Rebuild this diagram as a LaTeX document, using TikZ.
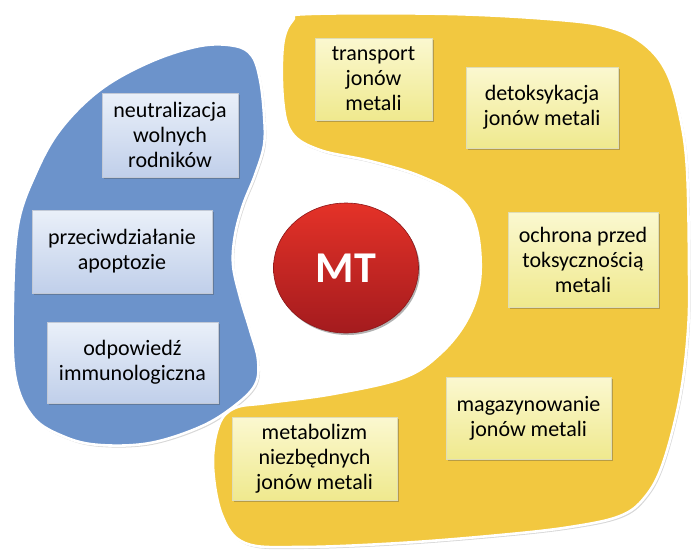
\documentclass[tikz,border=0pt]{standalone}
\usepackage{fontspec}
\setmainfont{Carlito}
\usetikzlibrary{shadows,shapes.geometric}
\definecolor{blobblue}{RGB}{108,147,203}
\definecolor{blobyellow}{RGB}{242,200,64}
\definecolor{bboxtop}{RGB}{234,240,249}
\definecolor{bboxbot}{RGB}{192,207,234}
\definecolor{yboxtop}{RGB}{251,248,208}
\definecolor{yboxbot}{RGB}{239,233,142}
\definecolor{mttop}{RGB}{228,50,40}
\definecolor{mtbot}{RGB}{164,27,30}
\tikzset{
  blob/.style={draw=white, line width=2.6pt, line join=round},
  blobshadow/.style={fill=black!45, opacity=0.35},
  infobox/.style={rectangle, inner sep=2pt, align=center,
    font=\fontsize{22}{25}\selectfont, text=black,
    drop shadow={shadow xshift=1.5pt, shadow yshift=-1.8pt, opacity=0.35, fill=black!70}},
  bluebox/.style={infobox, top color=bboxtop, bottom color=bboxbot, draw=bboxbot!80!black!60, line width=0.3pt},
  yellowbox/.style={infobox, top color=yboxtop, bottom color=yboxbot, draw=yboxbot!80!black!50, line width=0.3pt},
  mtnode/.style={ellipse, top color=mttop, bottom color=mtbot, draw=mtbot!85!black, line width=0.6pt,
    text=white, font=\fontsize{44}{44}\selectfont\bfseries,
    drop shadow={shadow xshift=1.5pt, shadow yshift=-2pt, opacity=0.3, fill=black}}
}
\begin{document}
\begin{tikzpicture}[x=1pt,y=-1pt]
\useasboundingbox (0,0) rectangle (692,549);
\def\bluepath{plot[smooth cycle, tension=0.6] coordinates {
 (200,46) (235,46) (252,56) (260,80) (264,115) (264,145) (255,175) (243,205)
 (235,235) (233,265) (240,297) (250,330) (258,360) (255,385) (233,407) (200,427)
 (150,443) (100,445) (65,437) (33,417) (15,375) (13,300) (18,225) (35,175)
 (60,130) (100,90) (150,62)}}
\def\yellowpath{plot[smooth cycle, tension=0.6] coordinates {
 (310,14) (450,14) (560,20) (612,28) (645,45) (667,73) (680,117) (687,170)
 (689,270) (688,330) (680,397) (663,463) (645,497) (620,516) (570,527) (500,535)
 (400,543) (300,547) (245,543) (222,515) (213,465) (219,425) (235,408) (267,403)
 (333,394) (403,378) (440,354) (467,320) (480,280) (477,230) (460,198) (420,176)
 (370,161) (320,150) (292,133) (283,100) (283,45) (293,20)}}
% shadows of the blobs
\fill[blobshadow, shift={(1.5,2)}] \bluepath;
\fill[blobshadow, shift={(1.5,2)}] \yellowpath;
% blobs
\filldraw[blob, fill=blobblue] \bluepath;
\filldraw[blob, fill=blobyellow] \yellowpath;
% blue boxes
\node[bluebox, minimum width=136pt, minimum height=84pt] (b1) at (170,135) {neutralizacja\\wolnych\\rodników};
\node[bluebox, minimum width=180pt, minimum height=83pt] (b2) at (122,251.5) {przeciwdziałanie\\apoptozie};
\node[bluebox, minimum width=171pt, minimum height=81pt] (b3) at (132.5,362.5) {odpowiedź\\immunologiczna};
% yellow boxes
\node[yellowbox, minimum width=117pt, minimum height=82pt] (y1) at (373.5,79) {transport\\jonów\\metali};
\node[yellowbox, minimum width=152pt, minimum height=81pt] (y2) at (542,107.5) {detoksykacja\\jonów metali};
\node[yellowbox, minimum width=150pt, minimum height=95pt] (y3) at (583,259.5) {ochrona przed\\toksycznością\\metali};
\node[yellowbox, minimum width=165pt, minimum height=82pt] (y4) at (528.5,418) {magazynowanie\\jonów metali};
\node[yellowbox, minimum width=165pt, minimum height=83pt] (y5) at (314.5,458.5) {metabolizm\\niezbędnych\\jonów metali};
% MT
\node[mtnode, minimum width=145pt, minimum height=130pt, inner sep=0pt] (mt) at (346,268) {MT};
\end{tikzpicture}
\end{document}
